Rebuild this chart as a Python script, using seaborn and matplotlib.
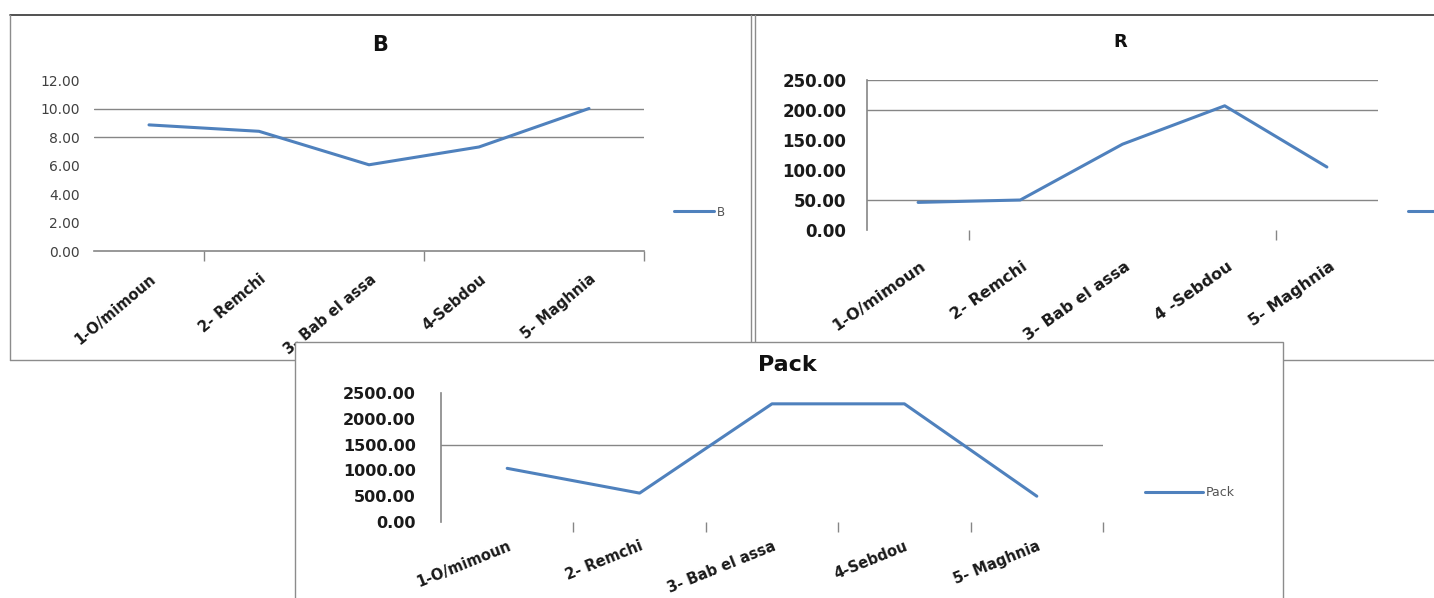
import matplotlib
matplotlib.use("Agg")
import matplotlib.pyplot as plt
import matplotlib.transforms as mtransforms
from matplotlib.patches import Rectangle
from matplotlib.lines import Line2D
import seaborn as sns
import pandas as pd

# ---------------- data ----------------
categories_B = ["1-O/mimoun", "2- Remchi", "3- Bab el assa", "4-Sebdou", "5- Maghnia"]
values_B = [8.85, 8.40, 6.05, 7.30, 10.00]

categories_R = ["1-O/mimoun", "2- Remchi", "3- Bab el assa", "4 -Sebdou", "5- Maghnia"]
values_R = [46.0, 50.0, 143.0, 207.0, 105.0]

categories_P = ["1-O/mimoun", "2- Remchi", "3- Bab el assa", "4-Sebdou", "5- Maghnia"]
values_P = [1040.0, 560.0, 2290.0, 2290.0, 500.0]

yticks_B = [0, 2, 4, 6, 8, 10, 12]
yticks_R = [0, 50, 100, 150, 200, 250]
yticks_P = [0, 500, 1000, 1500, 2000, 2500]

# ---------------- style ----------------
sns.set_theme(style="white")
plt.rcParams["font.family"] = ["DejaVu Sans"]

LINE = "#4F81BD"
GRID = "#868686"
BORDER = "#8c8c8c"
W, H = 1434, 598

fig = plt.figure(figsize=(W / 100, H / 100), dpi=100)
fig.patch.set_facecolor("white")


def fx(x):
    return x / W


def fy(y):
    return 1 - y / H


def px_axes(x0, y0, x1, y1):
    return [fx(x0), fy(y1), (x1 - x0) / W, (y1 - y0) / H]


def hline(x0, x1, y, color=BORDER, lw=1.0, z=0.5):
    fig.add_artist(Line2D([fx(x0), fx(x1)], [fy(y), fy(y)], transform=fig.transFigure,
                          color=color, lw=lw, zorder=z))


def vline(x, y0, y1, color=BORDER, lw=1.0, z=0.5):
    fig.add_artist(Line2D([fx(x), fx(x)], [fy(y0), fy(y1)], transform=fig.transFigure,
                          color=color, lw=lw, zorder=z))


# panel borders (B and R)
hline(10, 1434, 15, color="#333333", lw=1.2)
vline(10, 15, 360)
hline(10, 300, 360)
vline(751, 15, 345)
vline(755, 15, 345)
hline(1280, 1434, 360)

# Pack panel (white, drawn over the others)
fig.add_artist(Rectangle((fx(295), fy(600)), (1283 - 295) / W, (600 - 342) / H,
                         transform=fig.transFigure, facecolor="white",
                         edgecolor=BORDER, lw=1.0, zorder=2))


def make_panel(ax, cats, vals, name, yticks, ylim, grid_vis, minor_ticks,
               ytick_fs, ytick_bold, ytick_pad, xtick_fs, rot, xpad, xdx,
               left_spine, bottom_spine, leg_xy, leg_fs, leg_hl, ytick_color,
               leg_text=True):
    df = pd.DataFrame({"cat": cats, "val": vals})
    sns.lineplot(data=df, x="cat", y="val", ax=ax, color=LINE, linewidth=2.2,
                 label=name, sort=False)
    ax.set_facecolor("none")
    ax.set_xlim(-0.5, len(cats) - 0.5)
    ax.set_ylim(*ylim)
    ax.set_xlabel("")
    ax.set_ylabel("")
    ax.set_yticks(yticks)
    ax.set_yticklabels([f"{v:.2f}" for v in yticks], fontsize=ytick_fs,
                       fontweight="bold" if ytick_bold else "normal", color=ytick_color)
    ax.set_xticks(range(len(cats)))
    ax.set_xticklabels(cats, fontsize=xtick_fs, fontweight="bold", color="#1a1a1a")
    ax.set_xticks(minor_ticks, minor=True)
    ax.tick_params(axis="y", length=0, pad=ytick_pad)
    ax.tick_params(axis="x", which="major", length=0, pad=xpad, bottom=False)
    ax.tick_params(axis="x", which="minor", bottom=True, length=7, width=1.0,
                   color=GRID, direction="out")
    for lbl in ax.get_xticklabels():
        lbl.set_rotation(rot)
        lbl.set_ha("right")
        lbl.set_va("center")
        lbl.set_rotation_mode("anchor")
    ax.grid(axis="y", color=GRID, linewidth=1.0)
    ax.grid(axis="x", visible=False)
    for t in ax.yaxis.get_major_ticks():
        t.gridline.set_visible(t.get_loc() in grid_vis)
    for s in ["top", "right"]:
        ax.spines[s].set_visible(False)
    ax.spines["left"].set_visible(left_spine)
    ax.spines["bottom"].set_visible(bottom_spine)
    for s in ["left", "bottom"]:
        ax.spines[s].set_color(GRID)
        ax.spines[s].set_linewidth(1.2)
    off = mtransforms.ScaledTranslation(xdx / 100, 0, fig.dpi_scale_trans)
    for lbl in ax.get_xticklabels():
        lbl.set_transform(lbl.get_transform() + off)
    handles, labels = ax.get_legend_handles_labels()
    if not leg_text:
        labels = [""] * len(labels)
    ax.legend(handles, labels, loc="center left",
              bbox_to_anchor=(fx(leg_xy[0]), fy(leg_xy[1])),
              bbox_transform=fig.transFigure, frameon=False, fontsize=leg_fs,
              handlelength=leg_hl, handletextpad=0.25, borderpad=0, borderaxespad=0,
              labelcolor="#555555")


# ---------------- B ----------------
axB = fig.add_axes(px_axes(94, 80, 644, 251))
axB.set_zorder(1)
make_panel(axB, categories_B, values_B, "B", yticks_B, (0, 12), [8, 10],
           [0.5, 2.5, 4.5], 10, False, 10, 10.5, 40, 19, 5,
           False, True, (674, 212), 8.5, 3.4, "#404040")

# ---------------- R ----------------
# (legend is cut by the right edge in the original: only its line shows)
axR = fig.add_axes(px_axes(867, 80, 1378, 230))
axR.set_zorder(1)
make_panel(axR, categories_R, values_R, "R", yticks_R, (0, 250), [50, 200, 250],
           [0.5, 3.5], 12, True, 15, 11.5, 35, 25, 6,
           True, False, (1408, 212), 9, 3.4, "#1a1a1a", leg_text=False)

# ---------------- Pack ----------------
axP = fig.add_axes(px_axes(441, 393, 1103, 522))
axP.set_zorder(3)
make_panel(axP, categories_P, values_P, "Pack", yticks_P, (0, 2500), [1500],
           [0.5, 1.5, 2.5, 3.5, 4.5], 11.5, True, 18, 10.5, 22, 17, 3,
           True, False, (1145, 493), 9, 4.6, "#1a1a1a")

# titles
fig.text(fx(380), fy(45), "B", ha="center", va="center", fontsize=15,
         fontweight="bold", color="#111111", zorder=4)
fig.text(fx(1120), fy(42), "R", ha="center", va="center", fontsize=13,
         fontweight="bold", color="#111111", zorder=4)
fig.text(fx(787), fy(365), "Pack", ha="center", va="center", fontsize=16,
         fontweight="bold", color="#111111", zorder=4)

fig.savefig("out.png", dpi=100)
